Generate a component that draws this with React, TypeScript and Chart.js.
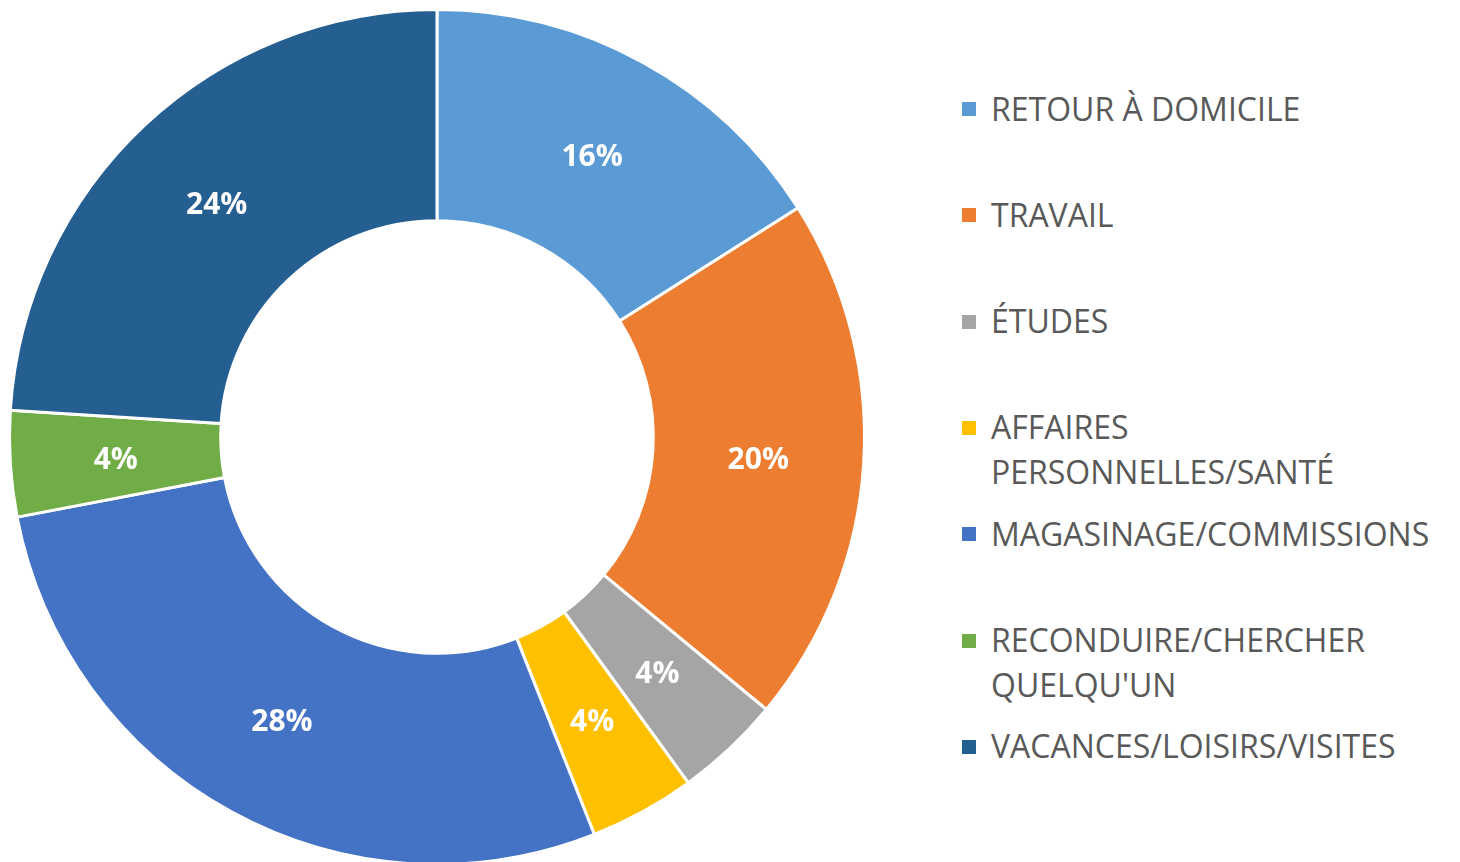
import React, { useEffect, useRef } from "react";
import { Chart, registerables } from "chart.js";

Chart.register(...registerables);

const categories = [
  "RETOUR À DOMICILE",
  "TRAVAIL",
  "ÉTUDES",
  "AFFAIRES PERSONNELLES/SANTÉ",
  "MAGASINAGE/COMMISSIONS",
  "RECONDUIRE/CHERCHER QUELQU'UN",
  "VACANCES/LOISIRS/VISITES",
];
const legendLines = [
  ["RETOUR À DOMICILE"],
  ["TRAVAIL"],
  ["ÉTUDES"],
  ["AFFAIRES", "PERSONNELLES/SANTÉ"],
  ["MAGASINAGE/COMMISSIONS"],
  ["RECONDUIRE/CHERCHER", "QUELQU'UN"],
  ["VACANCES/LOISIRS/VISITES"],
];
const values = [16, 20, 4, 4, 28, 4, 24];
const colors = ["#5B9BD5", "#ED7D31", "#A5A5A5", "#FFC000", "#4472C4", "#70AD47", "#255E91"];

const FONT = "'Open Sans', 'Noto Sans', sans-serif";

const labelPlugin = {
  id: "sliceLabels",
  afterDatasetsDraw(chart: any) {
    const ctx = chart.ctx;
    const meta = chart.getDatasetMeta(0);
    ctx.save();
    ctx.fillStyle = "#FFFFFF";
    ctx.font = `bold 30px ${FONT}`;
    ctx.textAlign = "center";
    ctx.textBaseline = "middle";
    meta.data.forEach((arc: any, i: number) => {
      const p = arc.tooltipPosition();
      ctx.fillText(`${values[i]}%`, p.x, p.y + 3);
    });
    ctx.restore();
  },
};

export default function App() {
  const ref = useRef<HTMLCanvasElement | null>(null);
  useEffect(() => {
    if (!ref.current) return;
    const chart = new Chart(ref.current, {
      type: "doughnut",
      data: {
        labels: categories,
        datasets: [
          {
            data: values,
            backgroundColor: colors,
            borderColor: "#FFFFFF",
            borderWidth: 3,
          },
        ],
      },
      options: {
        animation: false,
        responsive: false,
        cutout: "50.6%",
        layout: { padding: 8 },
        plugins: {
          legend: { display: false },
          tooltip: { enabled: false },
        },
      },
      plugins: [labelPlugin],
    });
    return () => chart.destroy();
  }, []);

  return (
    <div
      style={{
        position: "absolute",
        left: 0,
        top: 0,
        width: 1460,
        height: 862,
        overflow: "hidden",
        background: "#FFFFFF",
      }}
    >
      <canvas
        ref={ref}
        width={874}
        height={874}
        style={{ position: "absolute", left: 0, top: 0, width: 874, height: 874 }}
      />
      {legendLines.map((lines, i) => (
        <div
          key={i}
          style={{
            position: "absolute",
            left: 962,
            top: 109 + i * 106.3 - 22.5,
          }}
        >
          <div
            style={{
              position: "absolute",
              left: 0,
              top: 22.5 - 7,
              width: 14,
              height: 14,
              background: colors[i],
            }}
          />
          <div
            style={{
              position: "absolute",
              left: 29,
              top: -1,
              whiteSpace: "nowrap",
              fontFamily: FONT,
              fontSize: 32,
              lineHeight: "45px",
              color: "#595959",
            }}
          >
            {lines.map((l, j) => (
              <div key={j}>{l}</div>
            ))}
          </div>
        </div>
      ))}
    </div>
  );
}
